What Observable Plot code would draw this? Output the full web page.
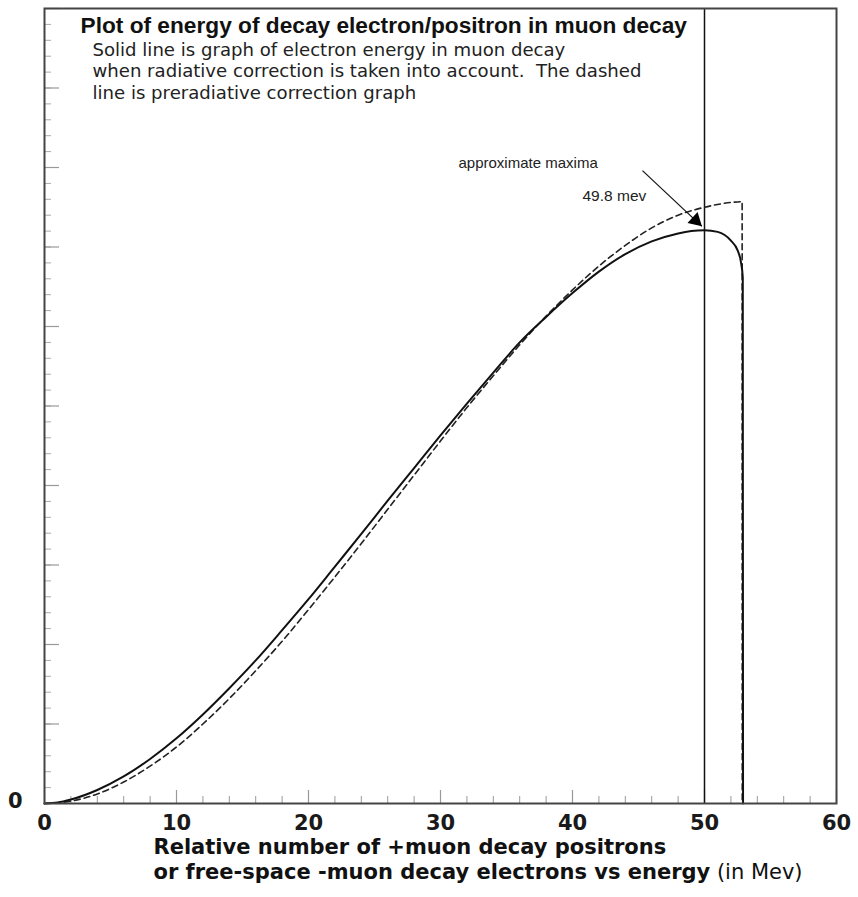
<!DOCTYPE html>
<html><head><meta charset="utf-8">
<script src="https://cdn.jsdelivr.net/npm/d3@7"></script>
<script src="https://cdn.jsdelivr.net/npm/@observablehq/plot@0.6"></script>
<style>body{margin:0;background:#fff}</style>
</head><body><div id="chart"></div>
<script>
// Radiatively corrected spectrum (solid)
const solidEnergy = [0,1,2,4,6,8,10,12,14,16,18,20,22,24,26,28,30,32,34,36,38,40,42,44,46,48,49,50,51,52,52.5,52.75,52.9,52.92];
const solidCount  = [0,0.012,0.05,0.17,0.34,0.56,0.82,1.12,1.45,1.80,2.18,2.57,2.98,3.39,3.81,4.22,4.63,5.03,5.42,5.80,6.12,6.42,6.69,6.91,7.07,7.17,7.20,7.21,7.19,7.08,6.96,6.82,6.62,0];
// Pre-radiative correction spectrum (dashed)
const dashedEnergy = [0,2,4,6,8,10,12,14,16,18,20,22,24,26,28,30,32,34,36,38,40,42,44,46,48,50,52,52.85,52.86];
const dashedCount  = [0,0.03,0.12,0.27,0.47,0.71,1.00,1.32,1.67,2.04,2.44,2.85,3.27,3.70,4.13,4.56,4.98,5.38,5.77,6.13,6.46,6.76,7.02,7.24,7.40,7.50,7.56,7.57,0];

const xTickLabels = [0,10,20,30,40,50,60];
const xMinorTicks = d3.range(0, 61, 2);
const yMajorTicks = d3.range(0, 11, 1);
const yMinorTicks = d3.range(0, 50).map(i => i / 5);
const yTickLabels = [0];

const markerEnergy = 50;
const maximaEnergy = 49.8;
const maximaCount = 7.26;
const arrowStart = {energy: 45.3, count: 7.96};

const titleText = "Plot of energy of decay electron/positron in muon decay";
const noteLines = [
  "Solid line is graph of electron energy in muon decay",
  "when radiative correction is taken into account.  The dashed",
  "line is preradiative correction graph"
];
const maximaLabel = "approximate maxima";
const maximaValueLabel = "49.8 mev";
const xLabelLine1 = "Relative number of +muon decay positrons";
const xLabelLine2 = "or free-space -muon decay electrons vs energy";
const xLabelUnit = " (in Mev)";

const solid = solidEnergy.map((e, i) => ({energy: e, count: solidCount[i]}));
const dashed = dashedEnergy.map((e, i) => ({energy: e, count: dashedCount[i]}));

const W = 858, H = 897, mL = 44, mR = 22, mT = 8, mB = 94;
const pw = W - mL - mR, ph = H - mT - mB;
const textFont = "Liberation Sans, Arial, sans-serif";
const noteFont = "DejaVu Sans, Verdana, sans-serif";

const noteMarks = noteLines.map((line, i) =>
  Plot.text([line], {text: d => d, frameAnchor: "top-left", dx: 48, dy: 41.5 + i * 21.5, textAnchor: "start", lineAnchor: "middle", fontSize: 18.1, fontFamily: noteFont, fill: "#222"})
);

const plot = Plot.plot({
  width: W, height: H,
  marginLeft: mL, marginRight: mR, marginTop: mT, marginBottom: mB,
  style: {fontFamily: textFont, color: "#1a1a1a", background: "#fff"},
  x: {domain: [0, 60], axis: null},
  y: {domain: [0, 10], axis: null},
  marks: [
    Plot.tickY(yMinorTicks, {y: d => d, stroke: "#aaa", strokeWidth: 1, insetRight: pw - 7}),
    Plot.tickY(yMajorTicks, {y: d => d, stroke: "#999", strokeWidth: 1.2, insetRight: pw - 15}),
    Plot.tickX(xMinorTicks, {x: d => d, stroke: "#999", strokeWidth: 1, insetTop: ph - 7}),
    Plot.tickX(xTickLabels, {x: d => d, stroke: "#999", strokeWidth: 1.2, insetTop: ph - 13}),
    Plot.ruleX([markerEnergy], {stroke: "#111", strokeWidth: 1.5}),
    Plot.line(dashed, {x: "energy", y: "count", stroke: "#222", strokeWidth: 1.6, strokeDasharray: "6,4", curve: "monotone-x"}),
    Plot.line(solid, {x: "energy", y: "count", stroke: "#111", strokeWidth: 2, curve: "monotone-x"}),
    Plot.frame({stroke: "#444", strokeWidth: 2}),
    Plot.axisX({ticks: xTickLabels, tickSize: 0, tickPadding: 12, fontSize: 21, fontWeight: "bold", fontFamily: "DejaVu Sans, sans-serif"}),
    Plot.axisY({ticks: yTickLabels, tickSize: 0, tickPadding: 22, dy: -2, fontSize: 21, fontWeight: "bold", fontFamily: "DejaVu Sans, sans-serif"}),
    Plot.text([titleText], {text: d => d, frameAnchor: "top-left", dx: 36, dy: 17.5, textAnchor: "start", lineAnchor: "middle", fontSize: 22.7, fontWeight: "bold", fill: "#111"}),
    ...noteMarks,
    Plot.text([maximaLabel], {text: d => d, frameAnchor: "top-left", dx: 414, dy: 155, textAnchor: "start", lineAnchor: "middle", fontSize: 15, fill: "#222"}),
    Plot.text([maximaValueLabel], {text: d => d, frameAnchor: "top-left", dx: 538, dy: 188, textAnchor: "start", lineAnchor: "middle", fontSize: 15.5, fill: "#222"}),
    Plot.link([{x1: arrowStart.energy, y1: arrowStart.count, x2: maximaEnergy, y2: maximaCount}], {x1: "x1", y1: "y1", x2: "x2", y2: "y2", stroke: "#111", strokeWidth: 1.2}),
    Plot.dot([{energy: maximaEnergy, count: maximaCount}], {x: "energy", y: "count", symbol: "triangle", r: 5.5, fill: "#000", stroke: "none", rotate: 133, dx: -6.2, dy: -5.9}),
    Plot.text([xLabelLine1], {text: d => d, frameAnchor: "bottom-left", dx: 109, dy: 44, textAnchor: "start", lineAnchor: "middle", fontSize: 21, fontWeight: "bold", fontFamily: "DejaVu Sans, sans-serif", fill: "#111"}),
    Plot.text([xLabelLine2], {text: d => d, frameAnchor: "bottom-left", dx: 109, dy: 69, textAnchor: "start", lineAnchor: "middle", fontSize: 21, fontWeight: "bold", fontFamily: "DejaVu Sans, sans-serif", fill: "#111"})
  ]
});
document.getElementById("chart").appendChild(plot);

// append the unit in regular weight to the second label line
d3.select(plot).selectAll("text").each(function() {
  if (this.textContent === xLabelLine2) {
    d3.select(this).append("tspan").attr("font-weight", "normal").text(xLabelUnit);
  }
});
</script>
</body></html>
